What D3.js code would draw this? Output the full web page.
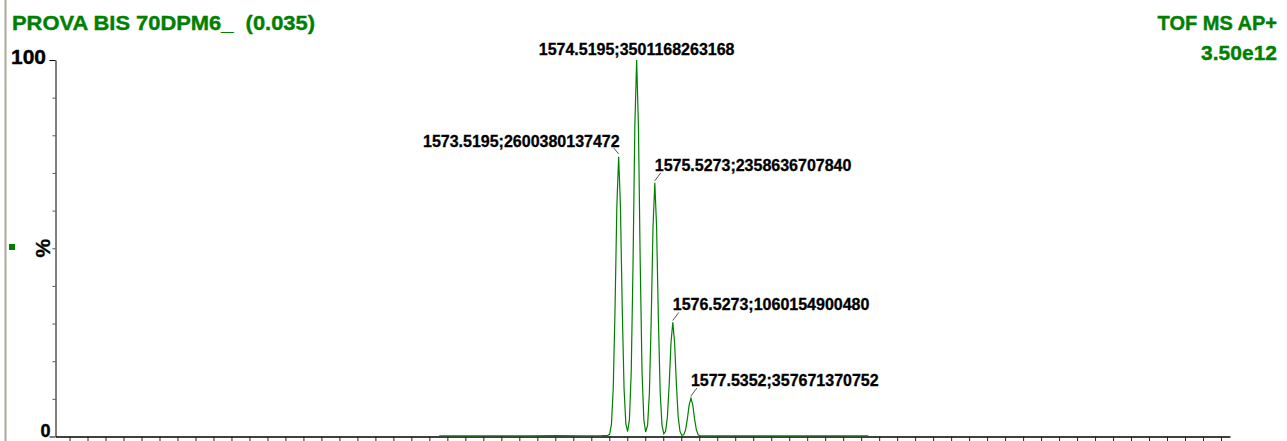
<!DOCTYPE html>
<html>
<head>
<meta charset="utf-8">
<script src="https://cdn.jsdelivr.net/npm/d3@7"></script>
<style>
  html, body { margin: 0; padding: 0; background: #fff; overflow: hidden; }
  svg { display: block; font-family: "Liberation Sans", Arial, sans-serif; }
</style>
</head>
<body>
<svg id="chart" width="1287" height="441"></svg>
<script>
// ---- data ----
const titleText = "PROVA BIS 70DPM6_  (0.035)";
const modeText = "TOF MS AP+";
const basePeakText = "3.50e12";
const basePeakIntensity = 3501168263168;

const peakMz = [1573.5195, 1574.5195, 1575.5273, 1576.5273, 1577.5352];
const peakIntensity = [2600380137472, 3501168263168, 2358636707840, 1060154900480, 357671370752];

const profileMz = [
  1563.55, 1565.2, 1566.9, 1568.4, 1570.1, 1571.6, 1572.6, 1572.92,
  1573.02, 1573.12, 1573.22, 1573.32, 1573.42, 1573.52, 1573.62, 1573.72, 1573.82, 1573.92,
  1574.02, 1574.12, 1574.22, 1574.32, 1574.42, 1574.52, 1574.62, 1574.72, 1574.82, 1574.92,
  1575.02, 1575.13, 1575.23, 1575.33, 1575.43, 1575.53, 1575.63, 1575.73, 1575.83, 1575.93,
  1576.03, 1576.13, 1576.23, 1576.33, 1576.43, 1576.53, 1576.63, 1576.73, 1576.83, 1576.93,
  1577.03, 1577.14, 1577.24, 1577.34, 1577.44, 1577.54, 1577.64, 1577.74, 1577.84, 1577.94,
  1578.04, 1578.6, 1580.2, 1581.9, 1583.5, 1585.1, 1586.6, 1587.4
];
const profilePct = [
  0.2, 0.15, 0.2, 0.18, 0.22, 0.2, 0.25, 0.3,
  0.56, 3.27, 12.8, 34.0, 61.1, 74.3, 61.1, 34.0, 12.8, 3.36,
  1.32, 4.47, 17.2, 45.8, 82.3, 100, 82.3, 45.8, 17.2, 4.45,
  1.2, 3.04, 11.6, 30.9, 55.5, 67.4, 55.5, 30.9, 11.6, 2.99,
  0.74, 1.39, 5.21, 13.9, 24.9, 30.3, 24.9, 13.9, 5.21, 1.34,
  0.3, 0.47, 1.76, 4.68, 8.41, 10.2, 8.41, 4.68, 1.76, 0.45,
  0.2, 0.18, 0.2, 0.15, 0.18, 0.2, 0.15, 0.2
];

const xDomain = [1542.22, 1607.5];
const xTickValues = d3.range(1543, 1608, 1);
const yLabelTicks = [0, 100];
const yMinorTicks = [10, 20, 30, 40, 50, 60, 70, 80, 90];

// ---- drawing ----
const green = "#008000";
const svg = d3.select("#chart");

const x = d3.scaleLinear().domain(xDomain).range([55.5, 1230]);
const y = d3.scaleLinear().domain([0, 100]).range([436.5, 60]);

// left grey frame line
svg.append("rect").attr("x", 4.5).attr("y", 0).attr("width", 2).attr("height", 441).attr("fill", "#aca899");
// green marker
svg.append("rect").attr("x", 9).attr("y", 244).attr("width", 6).attr("height", 6).attr("fill", green);

// title texts
svg.append("text").attr("x", 12).attr("y", 29.5).attr("fill", green)
  .attr("font-size", 20).attr("font-weight", "bold")
  .attr("stroke", green).attr("stroke-width", 0.4)
  .attr("textLength", 303).attr("lengthAdjust", "spacingAndGlyphs")
  .style("white-space", "pre").text(titleText);
svg.append("text").attr("x", 1277).attr("y", 29.5).attr("fill", green)
  .attr("font-size", 20).attr("font-weight", "bold").attr("text-anchor", "end")
  .attr("stroke", green).attr("stroke-width", 0.4)
  .text(modeText);
svg.append("text").attr("x", 1277).attr("y", 59.5).attr("fill", green)
  .attr("font-size", 21).attr("font-weight", "bold").attr("text-anchor", "end")
  .attr("stroke", green).attr("stroke-width", 0.4)
  .text(basePeakText);

// x axis
const xAxis = d3.axisBottom(x).tickValues(xTickValues).tickSize(6).tickFormat("").tickSizeOuter(0);
const gx = svg.append("g").attr("transform", `translate(0,${y(0)})`).call(xAxis);
gx.select(".domain").attr("stroke", "#000").attr("stroke-width", 1.6);
gx.selectAll(".tick line").attr("stroke", "#222");

// y axis
const yAxis = d3.axisLeft(y).tickValues(yLabelTicks).tickSize(6).tickFormat("").tickSizeOuter(0);
const gy = svg.append("g").attr("transform", "translate(55.5,0)").call(yAxis);
gy.select(".domain").attr("stroke", "#000");
const yAxisMinor = d3.axisLeft(y).tickValues(yMinorTicks).tickSize(3).tickFormat("").tickSizeOuter(0);
const gy2 = svg.append("g").attr("transform", "translate(55.5,0)").call(yAxisMinor);
gy2.select(".domain").remove();
gy2.selectAll(".tick line").attr("stroke", "#555");

svg.append("text").attr("x", 46).attr("y", y(100) + 4).attr("text-anchor", "end")
  .attr("font-size", 21).attr("font-weight", "bold").attr("stroke", "#000").attr("stroke-width", 0.4).text("100");
svg.append("text").attr("x", 50.5).attr("y", y(0)).attr("text-anchor", "end")
  .attr("font-size", 18).attr("font-weight", "bold").attr("stroke", "#000").attr("stroke-width", 0.4).text("0");
svg.append("text").attr("transform", `translate(50,${y(50)}) rotate(-90)`)
  .attr("text-anchor", "middle").attr("font-size", 21).attr("font-weight", "bold")
  .attr("stroke", "#000").attr("stroke-width", 0.3).text("%");

// spectrum
const pts = profileMz.map((m, i) => [m, profilePct[i]]);
const line = d3.line().x(d => x(d[0])).y(d => y(d[1]));
svg.append("path").datum(pts).attr("d", line)
  .attr("fill", "none").attr("stroke", green).attr("stroke-width", 1.2);

// peak labels
const maxIdx = d3.maxIndex(peakIntensity);
peakMz.forEach((m, i) => {
  const pct = peakIntensity[i] / basePeakIntensity * 100;
  const px = x(m), py = y(pct);
  const label = `${m.toFixed(4)};${peakIntensity[i]}`;
  const t = svg.append("text").attr("font-size", 16).attr("font-weight", "bold")
    .attr("fill", "#000").attr("stroke", "#000").attr("stroke-width", 0.3).text(label);
  if (i === maxIdx) {
    t.attr("x", px).attr("y", py - 5).attr("text-anchor", "middle");
  } else if (i < maxIdx) {
    t.attr("x", px + 1).attr("y", py - 10).attr("text-anchor", "end");
    svg.append("line").attr("x1", px).attr("y1", py - 3).attr("x2", px - 5).attr("y2", py - 9)
      .attr("stroke", "#555").attr("stroke-width", 1);
  } else {
    t.attr("x", px).attr("y", py - 12).attr("text-anchor", "start");
    svg.append("line").attr("x1", px).attr("y1", py - 2).attr("x2", px + 6).attr("y2", py - 10)
      .attr("stroke", "#555").attr("stroke-width", 1);
  }
});
</script>
</body>
</html>
